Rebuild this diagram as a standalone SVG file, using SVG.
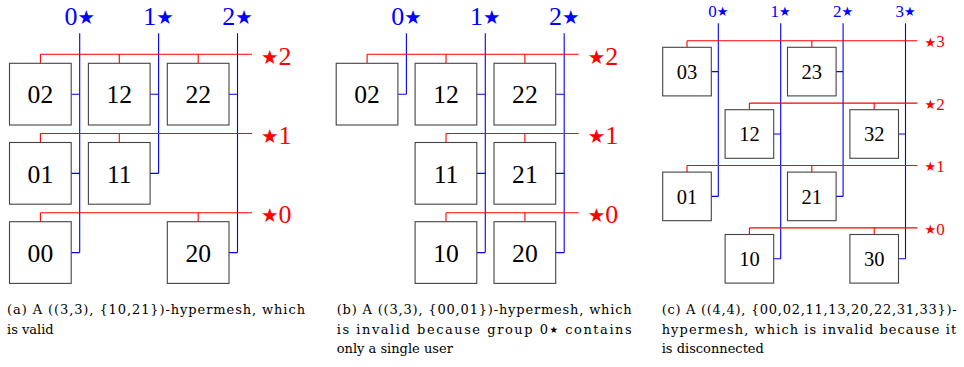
<svg xmlns="http://www.w3.org/2000/svg" width="964" height="367" viewBox="0 0 964 367">
<style>
.box{fill:#fff;stroke:#444;stroke-width:1.1}
.bl{stroke:#0000ff;stroke-width:1.1;fill:none}
.rd{stroke:#ff0000;stroke-width:1.1;fill:none}
.t{font-family:"Liberation Serif","DejaVu Serif",serif;fill:#000;text-anchor:middle}
.ta{font-size:25.6px}
.tc{font-size:20.5px}
.lb{font-family:"Liberation Serif","DejaVu Serif",serif;fill:#0000ff;text-anchor:middle}
.lr{font-family:"Liberation Serif","DejaVu Serif",serif;fill:#ff0000}
.st{font-family:"DejaVu Sans",sans-serif}
.sa{font-size:19.5px}
.sc{font-size:13px}
.cap{font-family:"DejaVu Serif",serif;font-size:13px;fill:#000}
</style>
<rect width="964" height="367" fill="#fff"/>

<g id="connectors">
<!-- panel a -->
<path class="bl" d="M79.7,33.3V252.6M71.2,94.2H79.7M71.2,173.4H79.7M71.2,252.6H79.7"/>
<path class="bl" d="M158.6,33.3V173.4M150.1,94.2H158.6M150.1,173.4H158.6"/>
<path class="bl" d="M237.5,33.3V252.6M229,94.2H237.5M229,252.6H237.5"/>
<path class="rd" d="M40.4,54.3H252M40.4,54.3V63.3M119.3,54.3V63.3M198.2,54.3V63.3"/>
<path class="rd" d="M40.4,133.5H252M40.4,133.5V142.5M119.3,133.5V142.5"/>
<path class="rd" d="M40.4,212.7H252M40.4,212.7V221.7M198.2,212.7V221.7"/>
<!-- panel b -->
<path class="bl" d="M406.4,33.3V94.2M397.9,94.2H406.4"/>
<path class="bl" d="M485.3,33.3V252.6M476.8,94.2H485.3M476.8,173.4H485.3M476.8,252.6H485.3"/>
<path class="bl" d="M564.2,33.3V252.6M555.7,94.2H564.2M555.7,173.4H564.2M555.7,252.6H564.2"/>
<path class="rd" d="M367.1,54.3H578.7M367.1,54.3V63.3M446,54.3V63.3M524.9,54.3V63.3"/>
<path class="rd" d="M446,133.5H578.7M446,133.5V142.5M524.9,133.5V142.5"/>
<path class="rd" d="M446,212.7H578.7M446,212.7V221.7M524.9,212.7V221.7"/>
<!-- panel c -->
<path class="bl" d="M718.3,23.3V196.4M711.3,71.6H718.3M711.3,196.4H718.3"/>
<path class="bl" d="M780.7,23.3V258.8M773.7,134H780.7M773.7,258.8H780.7"/>
<path class="bl" d="M843.1,23.3V196.4M836.1,71.6H843.1M836.1,196.4H843.1"/>
<path class="bl" d="M905.5,23.3V258.8M898.5,134H905.5M898.5,258.8H905.5"/>
<path class="rd" d="M687,40.7H917.3M687,40.7V47.3M811.8,40.7V47.3"/>
<path class="rd" d="M749.4,103.1H917.3M749.4,103.1V109.7M874.2,103.1V109.7"/>
<path class="rd" d="M687,165.5H917.3M687,165.5V172.1M811.8,165.5V172.1"/>
<path class="rd" d="M749.4,227.9H917.3M749.4,227.9V234.5M874.2,227.9V234.5"/>
</g>

<g id="labels">
<text class="lb" x="79.7" y="25" font-size="26">0<tspan class="st sa" dy="-1">★</tspan></text>
<text class="lb" x="158.6" y="25" font-size="26">1<tspan class="st sa" dy="-1">★</tspan></text>
<text class="lb" x="237.5" y="25" font-size="26">2<tspan class="st sa" dy="-1">★</tspan></text>
<text class="lr" x="261" y="64.5" font-size="26"><tspan class="st sa" dy="-1">★</tspan><tspan dy="1">2</tspan></text>
<text class="lr" x="261" y="143.7" font-size="26"><tspan class="st sa" dy="-1">★</tspan><tspan dy="1">1</tspan></text>
<text class="lr" x="261" y="222.9" font-size="26"><tspan class="st sa" dy="-1">★</tspan><tspan dy="1">0</tspan></text>

<text class="lb" x="406.4" y="25" font-size="26">0<tspan class="st sa" dy="-1">★</tspan></text>
<text class="lb" x="485.3" y="25" font-size="26">1<tspan class="st sa" dy="-1">★</tspan></text>
<text class="lb" x="564.2" y="25" font-size="26">2<tspan class="st sa" dy="-1">★</tspan></text>
<text class="lr" x="587.7" y="64.5" font-size="26"><tspan class="st sa" dy="-1">★</tspan><tspan dy="1">2</tspan></text>
<text class="lr" x="587.7" y="143.7" font-size="26"><tspan class="st sa" dy="-1">★</tspan><tspan dy="1">1</tspan></text>
<text class="lr" x="587.7" y="222.9" font-size="26"><tspan class="st sa" dy="-1">★</tspan><tspan dy="1">0</tspan></text>

<text class="lb" x="718.3" y="16.7" font-size="17">0<tspan class="st sc" dy="-0.7">★</tspan></text>
<text class="lb" x="780.7" y="16.7" font-size="17">1<tspan class="st sc" dy="-0.7">★</tspan></text>
<text class="lb" x="843.1" y="16.7" font-size="17">2<tspan class="st sc" dy="-0.7">★</tspan></text>
<text class="lb" x="905.5" y="16.7" font-size="17">3<tspan class="st sc" dy="-0.7">★</tspan></text>
<text class="lr" x="924.5" y="47.3" font-size="17"><tspan class="st sc" dy="-0.7">★</tspan><tspan dy="0.7">3</tspan></text>
<text class="lr" x="924.5" y="109.7" font-size="17"><tspan class="st sc" dy="-0.7">★</tspan><tspan dy="0.7">2</tspan></text>
<text class="lr" x="924.5" y="172.1" font-size="17"><tspan class="st sc" dy="-0.7">★</tspan><tspan dy="0.7">1</tspan></text>
<text class="lr" x="924.5" y="234.5" font-size="17"><tspan class="st sc" dy="-0.7">★</tspan><tspan dy="0.7">0</tspan></text>
</g>

<!-- panel a nodes -->
<g id="a02"><rect class="box" x="9.5" y="63.3" width="61.7" height="61.7"/><text class="t ta" x="40.4" y="103.3">02</text></g>
<g id="a12"><rect class="box" x="88.4" y="63.3" width="61.7" height="61.7"/><text class="t ta" x="119.3" y="103.3">12</text></g>
<g id="a22"><rect class="box" x="167.3" y="63.3" width="61.7" height="61.7"/><text class="t ta" x="198.2" y="103.3">22</text></g>
<g id="a01"><rect class="box" x="9.5" y="142.5" width="61.7" height="61.7"/><text class="t ta" x="40.4" y="182.5">01</text></g>
<g id="a11"><rect class="box" x="88.4" y="142.5" width="61.7" height="61.7"/><text class="t ta" x="119.3" y="182.5">11</text></g>
<g id="a00"><rect class="box" x="9.5" y="221.7" width="61.7" height="61.7"/><text class="t ta" x="40.4" y="261.7">00</text></g>
<g id="a20"><rect class="box" x="167.3" y="221.7" width="61.7" height="61.7"/><text class="t ta" x="198.2" y="261.7">20</text></g>

<!-- panel b nodes -->
<g id="b02"><rect class="box" x="336.2" y="63.3" width="61.7" height="61.7"/><text class="t ta" x="367.1" y="103.3">02</text></g>
<g id="b12"><rect class="box" x="415.1" y="63.3" width="61.7" height="61.7"/><text class="t ta" x="446" y="103.3">12</text></g>
<g id="b22"><rect class="box" x="494" y="63.3" width="61.7" height="61.7"/><text class="t ta" x="524.9" y="103.3">22</text></g>
<g id="b11"><rect class="box" x="415.1" y="142.5" width="61.7" height="61.7"/><text class="t ta" x="446" y="182.5">11</text></g>
<g id="b21"><rect class="box" x="494" y="142.5" width="61.7" height="61.7"/><text class="t ta" x="524.9" y="182.5">21</text></g>
<g id="b10"><rect class="box" x="415.1" y="221.7" width="61.7" height="61.7"/><text class="t ta" x="446" y="261.7">10</text></g>
<g id="b20"><rect class="box" x="494" y="221.7" width="61.7" height="61.7"/><text class="t ta" x="524.9" y="261.7">20</text></g>

<!-- panel c nodes -->
<g id="c03"><rect class="box" x="662.7" y="47.3" width="48.6" height="48.6"/><text class="t tc" x="687" y="79">03</text></g>
<g id="c23"><rect class="box" x="787.5" y="47.3" width="48.6" height="48.6"/><text class="t tc" x="811.8" y="79">23</text></g>
<g id="c12"><rect class="box" x="725.1" y="109.7" width="48.6" height="48.6"/><text class="t tc" x="749.4" y="141.4">12</text></g>
<g id="c32"><rect class="box" x="849.9" y="109.7" width="48.6" height="48.6"/><text class="t tc" x="874.2" y="141.4">32</text></g>
<g id="c01"><rect class="box" x="662.7" y="172.1" width="48.6" height="48.6"/><text class="t tc" x="687" y="203.8">01</text></g>
<g id="c21"><rect class="box" x="787.5" y="172.1" width="48.6" height="48.6"/><text class="t tc" x="811.8" y="203.8">21</text></g>
<g id="c10"><rect class="box" x="725.1" y="234.5" width="48.6" height="48.6"/><text class="t tc" x="749.4" y="266.2">10</text></g>
<g id="c30"><rect class="box" x="849.9" y="234.5" width="48.6" height="48.6"/><text class="t tc" x="874.2" y="266.2">30</text></g>

<g id="captions">
<text class="cap" x="7" y="314" textLength="298" lengthAdjust="spacing">(a) A ((3,3), {10,21})-hypermesh, which</text>
<text class="cap" x="7" y="333.5">is valid</text>
<text class="cap" x="336.7" y="314" textLength="295" lengthAdjust="spacing">(b) A ((3,3), {00,01})-hypermesh, which</text>
<text class="cap" x="336.7" y="333.5" textLength="295" lengthAdjust="spacing">is invalid because group 0<tspan class="st" font-size="9.5" dy="-0.5">★</tspan><tspan dy="0.5"> contains</tspan></text>
<text class="cap" x="336.7" y="353">only a single user</text>
<text class="cap" x="661.7" y="314" textLength="295" lengthAdjust="spacing">(c) A ((4,4), {00,02,11,13,20,22,31,33})-</text>
<text class="cap" x="661.7" y="333.5" textLength="294.5" lengthAdjust="spacing">hypermesh, which is invalid because it</text>
<text class="cap" x="661.7" y="353">is disconnected</text>
</g>
</svg>
